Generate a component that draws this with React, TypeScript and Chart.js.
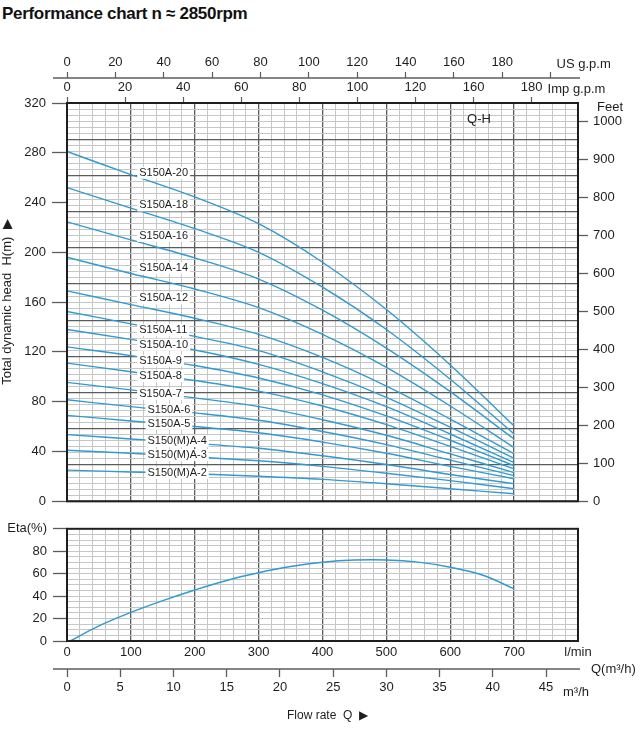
import React, { useEffect, useRef } from 'react';
import { Chart, registerables } from 'chart.js';

Chart.register(...registerables);

const FONT = "'Liberation Sans Narrow', 'Arial Narrow', 'Liberation Sans', Arial, sans-serif";
const CURVE = '#2f9bd3';
const GRID_LIGHT = '#c6c6c6';
const GRID_DARK = '#5c5c5c';
const INK = '#1e1e1e';

Chart.defaults.font.family = FONT;
Chart.defaults.color = INK;

// unit conversions for the secondary axes
const LPM_PER_USGPM = 3.78541;
const LPM_PER_IMPGPM = 4.54609;
const LPM_PER_M3H = 1000 / 60;
const FT_PER_M = 3.28084;
const Q_MAX = 800; // l/min
const H_MAX = 320; // m

// flow points (l/min) where the Q-H curves were read
const flowLpm = [0, 100, 200, 300, 400, 500, 600, 700];

const modelNames = [
  'S150A-20', 'S150A-18', 'S150A-16', 'S150A-14', 'S150A-12', 'S150A-11', 'S150A-10',
  'S150A-9', 'S150A-8', 'S150A-7', 'S150A-6', 'S150A-5', 'S150(M)A-4', 'S150(M)A-3', 'S150(M)A-2',
];

// head (m) per model at the flow points above
const headA20 = [281, 262.5, 244.5, 223, 192, 154, 109.5, 60.5];
const headA18 = [252, 235.5, 219, 200, 172, 138, 98, 54];
const headA16 = [224.5, 210, 195.5, 178.5, 153.5, 123, 88, 50];
const headA14 = [196, 183, 170.5, 155.5, 134, 107.5, 76.5, 43];
const headA12 = [169, 158, 147, 134, 115.5, 92.5, 66, 38];
const headA11 = [152.5, 142.5, 132.5, 121, 104, 83.5, 59.5, 34.5];
const headA10 = [138, 130, 121.5, 110, 94.5, 76, 54, 31];
const headA9 = [124, 117, 109, 99, 85.5, 68.5, 49, 28.5];
const headA8 = [111, 104, 97, 88.5, 76.5, 61.5, 44, 26];
const headA7 = [95.5, 89.5, 83, 76, 65.5, 53, 38, 23];
const headA6 = [81.5, 76, 71, 65, 56, 45.5, 33, 20.5];
const headA5 = [69, 64.5, 60, 55, 47.5, 38.5, 28, 18];
const headMA4 = [53.5, 50, 46.5, 42.5, 36.5, 29.5, 21.5, 14];
const headMA3 = [41, 38.5, 35.5, 32.5, 28, 22.5, 16.5, 10];
const headMA2 = [25, 23.5, 22, 20, 17.5, 14, 10, 6];

const headCurves = [
  headA20, headA18, headA16, headA14, headA12, headA11, headA10, headA9,
  headA8, headA7, headA6, headA5, headMA4, headMA3, headMA2,
];

// efficiency curve
const etaFlow = [5, 50, 100, 150, 200, 250, 300, 350, 400, 450, 500, 550, 600, 650, 700];
const etaPercent = [0, 13.5, 25.5, 36, 45.5, 54, 60.8, 66.3, 70.2, 72.2, 72.3, 70.3, 65.8, 58.8, 46.5];

// top scale tick texts as printed on the sheet
const impLabels = ['0', '20', '40', '60', '80', '100', '120', '160', '180'];

const headAt = (h: number[], q: number) => {
  for (let j = 0; j < flowLpm.length - 1; j++) {
    if (q >= flowLpm[j] && q <= flowLpm[j + 1]) {
      const t = (q - flowLpm[j]) / (flowLpm[j + 1] - flowLpm[j]);
      return h[j] + (h[j + 1] - h[j]) * t;
    }
  }
  return h[h.length - 1];
};

type TextSpec = { text: string; at: (c: any) => [number, number]; align?: CanvasTextAlign; size?: number };

function makeDecor(texts: TextSpec[], axisLines: string[], curveLabels: boolean) {
  return {
    id: 'decor',
    afterDatasetsDraw(chart: any) {
      const { ctx, chartArea: a } = chart;
      ctx.save();
      if (curveLabels) {
        const xs = chart.scales.x;
        const ys = chart.scales.y;
        ctx.font = `11px ${FONT}`;
        ctx.textBaseline = 'middle';
        ctx.textAlign = 'left';
        headCurves.forEach((h, i) => {
          const x = xs.getPixelForValue(i < 10 ? 113 : 126);
          const y = ys.getPixelForValue(headAt(h, 150)) - (i < 5 ? 13 : 0);
          const w = ctx.measureText(modelNames[i]).width;
          ctx.fillStyle = '#fff';
          ctx.fillRect(x - 2, y - 6, w + 4, 12);
          ctx.fillStyle = INK;
          ctx.fillText(modelNames[i], x, y);
        });
      }
      ctx.strokeStyle = INK;
      ctx.lineWidth = 2;
      ctx.strokeRect(a.left, a.top, a.right - a.left, a.bottom - a.top);
      ctx.strokeStyle = GRID_DARK;
      ctx.lineWidth = 1.5;
      axisLines.forEach((id) => {
        const s = chart.scales[id];
        const y = s.position === 'top' ? s.bottom : s.top;
        ctx.beginPath();
        ctx.moveTo(a.left - 14, y);
        ctx.lineTo(a.right + 2, y);
        ctx.stroke();
      });
      ctx.fillStyle = INK;
      ctx.textBaseline = 'middle';
      texts.forEach((t) => {
        const [x, y] = t.at(chart);
        ctx.font = `${t.size ?? 13}px ${FONT}`;
        ctx.textAlign = t.align ?? 'left';
        ctx.fillText(t.text, x, y);
      });
      ctx.restore();
    },
  };
}

const verticalGrid = {
  color: (c: any) => (c.tick.value % 100 === 0 ? GRID_DARK : GRID_LIGHT),
  lineWidth: (c: any) => (c.tick.value % 100 === 0 ? 1.3 : 1),
  drawTicks: false,
};

const tickFont = { size: 13 };

function topConfig(): any {
  return {
    type: 'line',
    data: {
      datasets: headCurves.map((h, i) => ({
        label: modelNames[i],
        data: flowLpm.map((q, j) => ({ x: q, y: h[j] })),
        borderColor: CURVE,
        borderWidth: 1.4,
        pointRadius: 0,
        cubicInterpolationMode: 'monotone',
        xAxisID: 'x',
        yAxisID: 'y',
      })),
    },
    options: {
      responsive: false,
      animation: false,
      events: [],
      layout: { padding: { top: 53, bottom: 9, left: 0, right: 0 } },
      plugins: { legend: { display: false }, tooltip: { enabled: false } },
      scales: {
        x: {
          type: 'linear', position: 'bottom', min: 0, max: Q_MAX,
          ticks: { display: false, stepSize: 20, autoSkip: false },
          grid: verticalGrid,
          border: { display: false },
          afterFit: (s: any) => { s.height = 0; },
        },
        imp: {
          type: 'linear', position: 'top', weight: 0, min: 0, max: Q_MAX / LPM_PER_IMPGPM,
          ticks: {
            stepSize: 20, includeBounds: false, autoSkip: false, maxRotation: 0, padding: 2, font: tickFont,
            callback: (_v: number, i: number) => impLabels[i] ?? '',
          },
          grid: { drawOnChartArea: false, tickLength: 6, tickColor: GRID_DARK, tickWidth: 1.2 },
          border: { display: false },
          afterFit: (s: any) => { s.height = 25; },
        },
        us: {
          type: 'linear', position: 'top', weight: 1, min: 0, max: Q_MAX / LPM_PER_USGPM,
          ticks: {
            stepSize: 20, includeBounds: false, autoSkip: false, maxRotation: 0, padding: 2, font: tickFont,
            callback: (v: number) => (v <= 180 ? String(v) : ''),
          },
          grid: { drawOnChartArea: false, tickLength: 6, tickColor: GRID_DARK, tickWidth: 1.2 },
          border: { display: false },
          afterFit: (s: any) => { s.height = 25; },
        },
        y: {
          type: 'linear', position: 'left', min: 0, max: H_MAX,
          ticks: { stepSize: 40, includeBounds: false, padding: 6, font: tickFont },
          grid: { drawOnChartArea: false, tickLength: 15, tickColor: GRID_DARK, tickWidth: 1.3 },
          border: { display: false },
          title: { display: true, text: 'Total dynamic head  H(m)  ▶', font: { size: 13 }, padding: { top: 0, bottom: 0 } },
          afterFit: (s: any) => { s.width = 67; },
        },
        rows: {
          type: 'linear', position: 'left', min: 0, max: 66,
          ticks: { display: false, stepSize: 1, autoSkip: false },
          grid: {
            color: (c: any) => (c.tick.value % 6 === 0 ? GRID_DARK : GRID_LIGHT),
            lineWidth: (c: any) => (c.tick.value % 6 === 0 ? 1.3 : 1),
            drawTicks: false,
          },
          border: { display: false },
          afterFit: (s: any) => { s.width = 0; },
        },
        feet: {
          type: 'linear', position: 'right', min: 0, max: H_MAX * FT_PER_M,
          ticks: { stepSize: 100, includeBounds: false, padding: 5, font: tickFont, callback: (v: number) => String(v) },
          grid: { drawOnChartArea: false, tickLength: 10, tickColor: GRID_DARK, tickWidth: 1.3 },
          border: { display: false },
          afterFit: (s: any) => { s.width = 62; },
        },
      },
    },
    plugins: [
      makeDecor(
        [
          { text: 'US g.p.m', at: (c) => [c.scales.us.getPixelForValue(200) + 6, c.scales.us.bottom - 14] },
          { text: 'Imp g.p.m', at: (c) => [c.scales.imp.getPixelForValue(160) + 16, c.scales.imp.bottom - 14] },
          { text: 'Feet', at: (c) => [c.chartArea.right + 19, c.chartArea.top + 4] },
          { text: 'Q-H', align: 'center', at: (c) => [c.scales.x.getPixelForValue(645), c.scales.y.getPixelForValue(307)] },
        ],
        ['us'],
        true,
      ),
    ],
  };
}

function bottomConfig(): any {
  return {
    type: 'line',
    data: {
      datasets: [
        {
          label: 'Eta',
          data: etaFlow.map((q, j) => ({ x: q, y: etaPercent[j] })),
          borderColor: CURVE,
          borderWidth: 1.5,
          pointRadius: 0,
          tension: 0.4,
          xAxisID: 'x',
          yAxisID: 'y',
        },
      ],
    },
    options: {
      responsive: false,
      animation: false,
      events: [],
      layout: { padding: { top: 13, bottom: 0, left: 0, right: 62 } },
      plugins: { legend: { display: false }, tooltip: { enabled: false } },
      scales: {
        x: {
          type: 'linear', position: 'bottom', weight: 0, min: 0, max: Q_MAX,
          ticks: {
            stepSize: 20, autoSkip: false, maxRotation: 0, padding: 4, font: tickFont,
            callback: (v: number) => (v === Q_MAX ? 'l/min' : v % 100 === 0 ? String(v) : ''),
          },
          grid: verticalGrid,
          border: { display: false },
          afterFit: (s: any) => { s.height = 28; },
        },
        m3h: {
          type: 'linear', position: 'bottom', weight: 1, min: 0, max: Q_MAX / LPM_PER_M3H,
          ticks: { stepSize: 5, includeBounds: false, autoSkip: false, maxRotation: 0, padding: 3, font: tickFont },
          grid: { drawOnChartArea: false, tickLength: 8, tickColor: GRID_DARK, tickWidth: 1.3 },
          border: { display: false },
          title: { display: true, text: '   Flow rate  Q  ▶', font: { size: 12 }, padding: { top: 0, bottom: 8 } },
          afterFit: (s: any) => { s.height = 62; },
        },
        y: {
          type: 'linear', position: 'left', min: 0, max: 100,
          ticks: {
            stepSize: 20, padding: 6, font: tickFont,
            callback: (v: number) => (v === 100 ? 'Eta(%)' : String(v)),
          },
          grid: { drawOnChartArea: false, tickLength: 14, tickColor: GRID_DARK, tickWidth: 1.3 },
          border: { display: false },
          afterFit: (s: any) => { s.width = 67; },
        },
        pct: {
          type: 'linear', position: 'left', min: 0, max: 100,
          ticks: { display: false, stepSize: 5, autoSkip: false },
          grid: { color: GRID_LIGHT, drawTicks: false },
          border: { display: false },
          afterFit: (s: any) => { s.width = 0; },
        },
      },
    },
    plugins: [
      makeDecor(
        [
          { text: 'Q(m³/h)', at: (c) => [c.chartArea.right + 13, c.scales.m3h.top] },
          { text: 'm³/h', at: (c) => [c.chartArea.right - 15, c.scales.m3h.top + 23] },
        ],
        ['m3h'],
        false,
      ),
    ],
  };
}

export default function App() {
  const topRef = useRef<HTMLCanvasElement | null>(null);
  const bottomRef = useRef<HTMLCanvasElement | null>(null);

  useEffect(() => {
    if (!topRef.current || !bottomRef.current) return;
    const top = new Chart(topRef.current, topConfig());
    const bottom = new Chart(bottomRef.current, bottomConfig());
    return () => {
      top.destroy();
      bottom.destroy();
    };
  }, []);

  return (
    <div style={{ position: 'absolute', left: 0, top: 0, width: 640, height: 731, background: '#fff', overflow: 'hidden' }}>
      <div
        style={{
          position: 'absolute', left: 2, top: 4,
          font: "bold 17px 'Liberation Sans', Arial, sans-serif",
          color: '#111', letterSpacing: '-0.3px', whiteSpace: 'nowrap',
        }}
      >
        Performance chart n ≈ 2850rpm
      </div>
      <canvas ref={topRef} width={640} height={515} style={{ position: 'absolute', left: 0, top: 0 }} />
      <canvas ref={bottomRef} width={640} height={216} style={{ position: 'absolute', left: 0, top: 515 }} />
    </div>
  );
}
